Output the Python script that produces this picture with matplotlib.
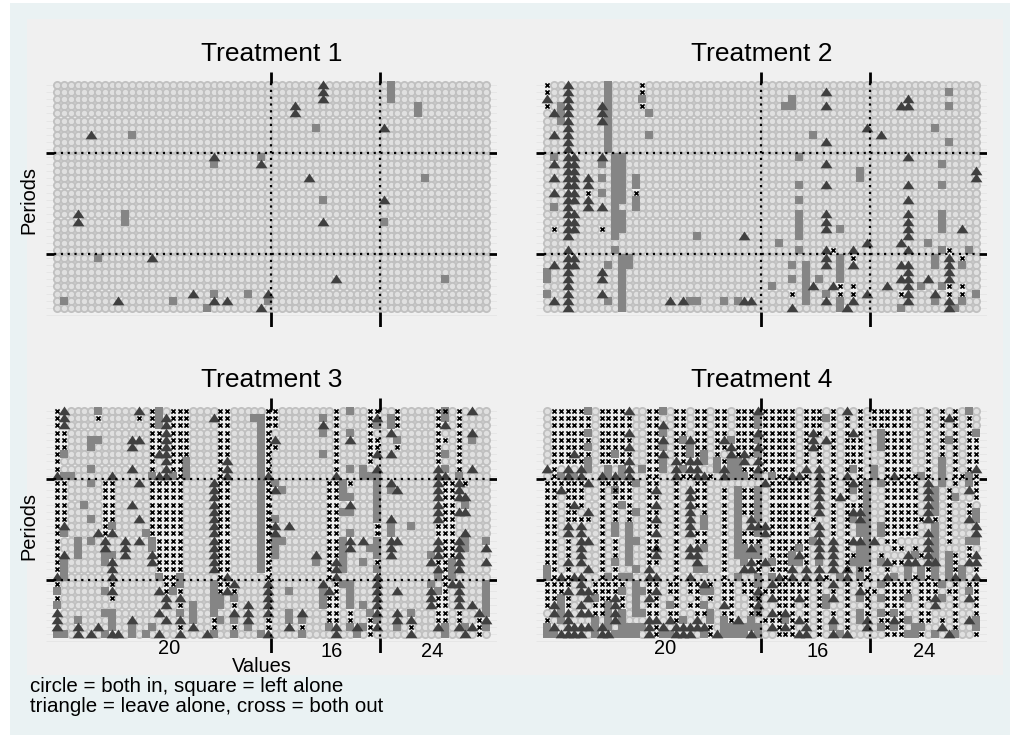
import matplotlib
matplotlib.use("Agg")
import matplotlib.pyplot as plt
from matplotlib.patches import Rectangle

plt.rcParams['font.family'] = ['Liberation Sans', 'DejaVu Sans']

# cells: {period row: [value columns]}
t1_square = {0: [49], 1: [49], 2: [49], 3: [53], 4: [53], 6: [38], 7: [11], 10: [30], 11: [23],
             13: [54], 16: [39], 18: [10], 19: [10, 48], 24: [6], 27: [57], 29: [23, 28],
             30: [1, 17, 31], 31: [22]}
t1_triangle = {0: [39], 1: [39], 2: [39], 3: [35], 4: [35], 6: [48], 7: [5], 10: [23], 11: [30],
               13: [37], 16: [48], 18: [3], 19: [3, 39], 24: [14], 27: [41], 29: [20, 31],
               30: [9, 23, 25], 31: [30]}
t1_cross = {}

t2_square = {0: [9], 1: [9, 59], 2: [9, 14, 36], 3: [2, 9, 35, 36, 59], 4: [2, 9, 15], 5: [2, 9],
             6: [9, 57], 7: [9, 15, 39], 8: [9, 59], 9: [9], 10: [1, 10, 11, 37],
             11: [8, 10, 11, 58], 12: [10, 11, 46], 13: [8, 10, 11, 13, 46], 14: [10, 11, 13, 37, 58],
             15: [8, 10, 11], 16: [10, 11, 13, 37], 17: [1, 10, 13], 18: [10, 11, 37, 58],
             19: [10, 11, 37, 58], 20: [10, 11, 37, 43, 58], 21: [10, 22, 37], 22: [34, 56],
             23: [10, 37, 58, 62], 24: [11, 12, 43, 57], 25: [9, 11, 12, 36, 38, 43, 57, 61],
             26: [0, 11, 38, 43], 27: [0, 11, 36, 38, 40, 43], 28: [11, 33, 38, 55, 58],
             29: [0, 11, 38, 41, 63], 30: [9, 11, 21, 22, 26, 28, 38, 43, 57, 61],
             31: [11, 43, 52, 60]}
t2_triangle = {0: [3], 1: [3, 41], 2: [0, 3, 53], 3: [3, 8, 41, 52, 53], 4: [1, 3, 8], 5: [3, 8],
               6: [3, 47], 7: [1, 3, 49], 8: [3, 41], 9: [3], 10: [3, 4, 8, 53], 11: [1, 3, 4, 41],
               12: [3, 4, 63], 13: [1, 3, 4, 6, 63], 14: [3, 4, 6, 41, 53], 15: [1, 3, 4],
               16: [3, 4, 6, 53], 17: [3, 6, 8], 18: [3, 4, 41, 53], 19: [3, 4, 41, 53],
               20: [3, 4, 41, 53, 61], 21: [3, 29, 53], 22: [47, 52], 23: [3, 41, 45, 53],
               24: [3, 4, 41, 59], 25: [1, 3, 4, 41, 45, 52, 53, 59], 26: [3, 8, 53, 59],
               27: [3, 8, 52, 53, 56, 59], 28: [3, 39, 42, 50, 53], 29: [3, 8, 47, 53, 57],
               30: [1, 3, 18, 20, 29, 30, 41, 45, 53, 59], 31: [3, 36, 44, 59]}
t2_cross = {0: [0, 14], 1: [0, 14], 3: [0, 14], 15: [6, 13], 20: [1, 8], 23: [42, 59], 24: [45, 61],
            28: [43, 45, 59, 61], 29: [36, 43, 45, 52, 59, 61]}

t3_square = {0: [6, 15, 43, 57], 1: [15, 29, 30, 39, 57, 49], 2: [15, 30, 47, 49], 3: [30, 39, 43],
             4: [5, 6, 30, 50, 61], 5: [5, 30], 6: [1, 30, 39, 57], 7: [19, 30], 8: [5, 19, 30, 43, 45, 57],
             9: [1, 2, 14, 17, 19, 30, 45, 46, 47, 59], 10: [5, 30, 32, 42, 47], 11: [30, 33, 42, 47, 49],
             12: [30, 42, 43, 47], 13: [4, 30, 47, 60], 14: [30, 42, 43, 47], 15: [5, 30, 32, 47],
             16: [8, 30, 49, 52], 17: [1, 13, 30, 43, 49], 18: [3, 5, 14, 30, 32, 33, 42, 47, 60, 63],
             19: [3, 14, 30, 32, 42, 46, 47, 60], 20: [3, 7, 8, 30, 32, 42, 47, 55], 21: [1, 7, 30, 38, 42, 45, 58],
             22: [1, 30, 42, 47, 58], 23: [1, 15, 18, 56, 58], 24: [18, 23, 42, 43, 55, 63],
             25: [0, 7, 17, 23, 34, 39, 43, 56, 63], 26: [23, 24, 26, 39, 43, 63],
             27: [0, 20, 23, 24, 39, 43, 45, 63], 28: [7, 8, 18, 20, 23, 34, 46, 52, 63],
             29: [3, 8, 20, 24, 26, 34, 36, 47], 30: [8, 11, 14, 28, 40, 43, 45, 50, 57, 60, 63],
             31: [0, 1, 7, 11, 13, 23, 26, 30, 36, 44, 57]}
t3_triangle = {0: [1, 12, 61], 1: [1, 16, 23, 47], 2: [1, 16, 39, 57], 3: [16, 49, 61], 4: [11, 12, 16, 32, 43],
               5: [11, 16], 6: [15, 16, 47, 49], 7: [16, 25], 8: [11, 16, 25, 47, 56, 61],
               9: [0, 8, 15, 16, 25, 31, 41, 56, 57], 10: [12, 23, 49, 56, 59], 11: [23, 32, 50, 56, 59],
               12: [23, 56, 59, 60], 13: [11, 23, 43, 56], 14: [23, 56, 59, 60], 15: [12, 23, 49, 56],
               16: [1, 23, 32, 34], 17: [6, 8, 23, 32, 60], 18: [7, 10, 12, 23, 43, 45, 49, 50, 56, 59],
               19: [7, 10, 23, 43, 49, 56, 59, 63], 20: [1, 10, 14, 23, 38, 49, 56, 59],
               21: [8, 14, 23, 41, 55, 59, 63], 22: [8, 23, 41, 56, 59], 23: [0, 8, 25, 41, 47],
               24: [26, 31, 39, 47, 59, 58], 25: [8, 15, 25, 31, 40, 47, 50, 55, 59],
               26: [16, 18, 31, 47, 55, 59], 27: [16, 28, 31, 47, 55, 59, 61], 28: [0, 15, 26, 28, 31, 36, 47, 50, 62],
               29: [0, 11, 16, 18, 28, 50, 52, 63], 30: [0, 3, 6, 20, 34, 41, 44, 47, 56, 59, 61],
               31: [3, 5, 8, 9, 15, 18, 22, 31, 41, 52, 60]}
t3_cross = {0: [0, 14, 17, 18, 19, 24, 25, 31, 32, 41, 46, 47, 50, 56, 57, 59],
            1: [0, 6, 12, 14, 17, 18, 19, 24, 25, 31, 32, 41, 46, 50, 56, 59],
            2: [0, 14, 17, 18, 19, 24, 25, 31, 32, 41, 46, 50, 56, 59],
            3: [0, 1, 14, 15, 17, 18, 19, 24, 25, 31, 41, 46, 56, 59],
            4: [0, 1, 14, 15, 17, 18, 19, 24, 25, 31, 41, 46, 47, 56, 57, 59],
            5: [0, 1, 14, 15, 17, 18, 19, 24, 25, 31, 32, 41, 46, 47, 50, 56, 59],
            6: [0, 14, 17, 18, 19, 24, 25, 31, 41, 46, 56, 59],
            7: [0, 14, 17, 18, 24, 31, 41, 46, 56, 59],
            8: [0, 14, 17, 18, 24, 31, 41, 59],
            9: [18, 24],
            10: [0, 1, 7, 8, 14, 15, 16, 17, 18, 24, 25, 31, 40, 41, 43, 57, 58, 60],
            11: [0, 1, 7, 8, 14, 15, 16, 17, 18, 24, 25, 31, 40, 41, 57, 58],
            12: [0, 1, 7, 8, 14, 15, 16, 17, 18, 24, 25, 31, 40, 41, 57, 58],
            13: [0, 1, 7, 8, 14, 15, 16, 17, 18, 24, 25, 31, 40, 41, 57, 58],
            14: [0, 1, 7, 8, 14, 15, 16, 17, 18, 24, 25, 31, 40, 41, 57, 58],
            15: [0, 1, 7, 8, 14, 15, 16, 17, 18, 24, 25, 31, 40, 41, 57, 58],
            16: [0, 7, 14, 15, 16, 17, 18, 24, 25, 31, 40, 41, 47, 56, 57, 58],
            17: [0, 7, 14, 15, 16, 17, 18, 24, 25, 31, 40, 41, 47, 56, 57, 58],
            18: [0, 15, 16, 17, 18, 24, 25, 31, 40, 41, 57, 58],
            19: [0, 15, 16, 17, 18, 24, 25, 31, 40, 41, 57, 58],
            20: [0, 15, 16, 17, 18, 24, 25, 31, 40, 41, 57, 58],
            21: [0, 15, 16, 17, 18, 24, 25, 31, 40, 47, 56, 57],
            22: [0, 15, 16, 17, 18, 24, 25, 31, 40, 57],
            23: [16, 17, 24, 31, 40, 57],
            24: [0, 8, 16, 17, 24, 25, 41, 57],
            25: [16, 18, 24, 26, 41, 57],
            26: [0, 8, 40, 41, 56, 57],
            27: [18, 26, 40, 41, 56, 57],
            28: [40, 41, 43, 56, 57, 59],
            29: [23, 31, 40, 41, 43, 46, 56, 57, 59, 62],
            30: [18, 23, 26, 31, 36, 46, 52, 62],
            31: [46, 62]}

t4_square = {0: [6, 17, 62], 1: [41, 31], 2: [31], 3: [6, 17, 49, 63], 4: [20, 27, 31, 49, 59],
             5: [6, 17, 21, 49], 6: [10, 21, 23, 31], 7: [6, 17, 23, 25, 27, 28, 58],
             8: [6, 9, 11, 14, 17, 20, 25, 27, 28, 45, 48, 58], 9: [2, 4, 9, 11, 27, 28, 29, 31, 33, 48, 55, 58, 62],
             10: [13, 47, 49, 58, 62], 11: [10, 28, 31, 45, 47, 57], 12: [28, 31, 47, 57, 60],
             13: [11, 28, 31, 47, 57], 14: [13, 28, 31, 47, 57, 63], 15: [23, 28, 31, 45, 47, 63],
             16: [10, 12, 23, 28, 46, 47, 49, 57], 17: [10, 12, 28, 31, 46, 47, 49, 57],
             18: [12, 13, 28, 39, 47, 57, 62, 63], 19: [12, 23, 28, 29, 31, 37, 46, 47, 57],
             20: [12, 28, 29, 30, 31, 36, 46, 47, 54, 57, 59], 21: [10, 12, 29, 33, 36, 37, 40, 45, 46, 47, 49, 57, 59],
             22: [0, 13, 22, 23, 46, 53, 55, 57, 59, 61], 23: [0, 9, 11, 12, 28, 31, 33, 43, 46, 51, 53, 55, 57, 59, 61],
             24: [13, 31, 49, 58], 25: [13, 14, 23, 24, 11, 62], 26: [2, 7, 13, 31, 41, 46, 49, 53, 58],
             27: [2, 9, 13, 18, 23, 41], 28: [2, 9, 11, 13, 14, 24, 31, 46, 49, 51],
             29: [2, 7, 9, 11, 20, 24, 26, 30, 35, 46, 53, 63],
             30: [0, 7, 9, 11, 12, 13, 14, 26, 27, 28, 29, 30, 31, 42, 49, 51, 54, 55, 63],
             31: [0, 1, 7, 10, 11, 12, 13, 17, 18, 23, 26, 27, 28, 29, 31, 43, 53, 54, 57, 60]}
t4_triangle = {0: [12, 31, 44], 1: [59], 2: [17], 3: [12, 31, 39, 45], 4: [17, 21, 26, 39, 41], 5: [12, 27, 31, 39],
               6: [4, 17, 27, 29], 7: [12, 19, 21, 22, 29, 31], 8: [0, 3, 5, 12, 19, 21, 22, 26, 31, 38, 40, 63],
               9: [3, 5, 8, 10, 12, 19, 22, 23, 26, 36, 37, 40, 44, 51], 10: [6, 32, 40, 45, 56],
               11: [2, 16, 21, 40, 56, 62], 12: [21, 40, 43, 56], 13: [4, 16, 21, 40, 56], 14: [6, 21, 40, 45, 46, 56],
               15: [16, 21, 30, 46, 56, 62], 16: [3, 5, 21, 30, 31, 32, 40, 63], 17: [3, 5, 16, 21, 32, 40, 56, 63],
               18: [5, 6, 40, 42, 45, 46, 48, 56], 19: [5, 16, 21, 22, 30, 40, 42, 56],
               20: [5, 16, 21, 22, 37, 40, 42, 53, 56, 63], 21: [3, 5, 22, 30, 32, 42, 50, 53, 54, 56, 57, 62, 63],
               22: [6, 15, 29, 30, 36, 38, 40, 42, 44], 23: [2, 4, 5, 15, 16, 21, 34, 36, 38, 40, 44, 50, 60, 63],
               24: [5, 23, 33, 42], 25: [3, 5, 6, 16, 31, 46], 26: [6, 10, 15, 33, 37, 42, 57, 62],
               27: [1, 5, 10, 26, 31, 57], 28: [1, 3, 5, 6, 10, 33, 35], 29: [3, 10, 15, 16, 18, 22, 28, 37, 42, 47, 51, 62],
               30: [1, 3, 4, 5, 6, 8, 15, 17, 19, 20, 21, 22, 23, 33, 35, 38, 47, 58],
               31: [2, 3, 4, 5, 8, 9, 15, 19, 20, 21, 25, 30, 37, 38, 42, 44, 59]}
t4_cross = {0: [1, 2, 3, 4, 5, 8, 9, 10, 11, 15, 16, 19, 20, 22, 23, 25, 26, 28, 29, 30, 32, 33, 34, 35, 36, 38, 39, 40, 42, 46, 48, 49, 50, 51, 52, 53, 56, 58, 60],
            1: [1, 2, 3, 4, 5, 6, 8, 9, 10, 11, 12, 15, 16, 19, 20, 22, 23, 25, 26, 28, 29, 30, 32, 33, 34, 35, 36, 38, 39, 40, 42, 44, 46, 48, 49, 50, 51, 52, 53, 56, 58, 60, 62],
            2: [1, 2, 3, 4, 5, 6, 8, 9, 10, 11, 12, 15, 16, 19, 20, 22, 23, 25, 26, 28, 29, 30, 32, 33, 34, 35, 36, 38, 39, 40, 42, 44, 46, 48, 49, 50, 51, 52, 53, 56, 58, 60, 62],
            3: [1, 2, 3, 4, 5, 8, 9, 10, 11, 15, 16, 19, 20, 22, 23, 25, 26, 28, 29, 30, 32, 33, 34, 35, 36, 38, 40, 42, 44, 46, 50, 51, 52, 53, 56, 58, 60, 62],
            4: [1, 2, 3, 4, 5, 6, 8, 9, 10, 11, 12, 15, 16, 19, 22, 23, 25, 28, 29, 30, 32, 33, 34, 35, 36, 38, 42, 44, 45, 46, 50, 51, 52, 53, 56, 58, 60, 62, 63],
            5: [1, 2, 3, 4, 5, 8, 9, 10, 11, 15, 16, 19, 20, 22, 23, 25, 26, 28, 29, 30, 32, 33, 34, 35, 36, 38, 40, 42, 44, 45, 46, 50, 51, 52, 53, 56, 58, 60, 62, 63],
            6: [1, 2, 3, 5, 6, 8, 9, 11, 12, 15, 16, 19, 20, 22, 25, 28, 30, 32, 33, 34, 35, 36, 38, 40, 42, 44, 45, 46, 50, 51, 52, 53, 56, 58, 60, 62, 63],
            7: [1, 2, 3, 4, 5, 8, 9, 10, 11, 15, 16, 20, 26, 32, 33, 34, 35, 36, 38, 40, 42, 44, 45, 46, 50, 51, 52, 53, 56, 60, 62, 63],
            8: [1, 15, 16, 29, 30, 32, 33, 34, 35, 36, 42, 44, 46, 50, 51, 52, 53, 56, 60, 62],
            9: [1, 15, 16, 20, 21, 24, 30, 34, 35, 38, 42, 46, 50, 52, 53, 54, 56, 60, 61, 63],
            10: [0, 1, 2, 3, 4, 5, 8, 9, 10, 11, 12, 15, 16, 19, 22, 23, 33, 34, 35, 36, 37, 38, 42, 44, 46, 50, 51, 52, 53, 54, 60, 63],
            11: [0, 1, 3, 4, 5, 8, 10, 11, 12, 15, 19, 22, 23, 26, 29, 30, 33, 34, 35, 36, 37, 38, 42, 44, 46, 50, 51, 52, 53, 54, 59, 63],
            12: [0, 1, 3, 4, 5, 8, 10, 11, 12, 15, 16, 19, 22, 23, 26, 29, 30, 33, 34, 35, 36, 37, 38, 42, 44, 46, 50, 51, 52, 53, 54, 59, 63],
            13: [0, 1, 3, 5, 8, 10, 12, 15, 19, 22, 23, 26, 29, 30, 33, 34, 35, 36, 37, 38, 42, 44, 45, 46, 50, 51, 52, 53, 54, 59, 62],
            14: [0, 1, 3, 4, 8, 10, 12, 15, 16, 19, 23, 26, 29, 30, 33, 34, 35, 36, 37, 38, 42, 44, 50, 51, 52, 53, 54, 59, 62],
            15: [0, 1, 3, 4, 5, 6, 8, 10, 12, 15, 19, 26, 33, 34, 35, 36, 37, 38, 39, 42, 44, 50, 51, 52, 53, 54, 55, 57, 59],
            16: [0, 1, 8, 15, 16, 19, 26, 33, 34, 35, 36, 37, 38, 42, 44, 50, 51, 52, 53, 54, 59],
            17: [0, 1, 8, 15, 19, 22, 23, 26, 29, 30, 33, 34, 35, 36, 37, 38, 42, 44, 50, 51, 52, 53, 54, 59],
            18: [0, 1, 3, 8, 10, 15, 16, 19, 22, 23, 26, 29, 30, 31, 33, 34, 35, 36, 37, 38, 44, 50, 51, 59],
            19: [0, 1, 3, 8, 10, 15, 16, 19, 26, 33, 34, 35, 36, 38, 44, 51, 52, 54, 62],
            20: [0, 1, 3, 8, 10, 15, 19, 26, 33, 34, 35, 38, 44, 45, 49, 55, 60, 62],
            21: [0, 1, 8, 15, 16, 19, 26, 31, 34, 35, 38, 44, 51, 52, 60],
            22: [1, 3, 8, 10, 19, 26, 31, 33, 34, 35, 44, 46, 47, 50, 56, 60, 63],
            23: [1, 3, 8, 10, 19, 26, 35, 41, 47, 54, 56],
            24: [0, 1, 2, 3, 7, 8, 9, 10, 11, 15, 16, 18, 19, 21, 22, 24, 26, 27, 29, 30, 34, 35, 36, 37, 38, 40, 44, 46, 50, 51, 52, 53, 55, 56, 57, 60, 62, 63],
            25: [0, 1, 2, 7, 8, 9, 10, 15, 18, 19, 21, 22, 26, 27, 29, 30, 32, 33, 34, 35, 36, 37, 38, 40, 42, 44, 47, 48, 50, 51, 52, 53, 55, 56, 57, 59, 60, 63],
            26: [0, 1, 3, 8, 9, 11, 16, 19, 22, 24, 26, 27, 30, 31, 34, 35, 36, 38, 40, 44, 47, 50, 51, 52, 55, 56, 60, 63],
            27: [0, 3, 7, 8, 11, 15, 16, 19, 21, 22, 27, 30, 34, 35, 36, 38, 40, 44, 47, 50, 51, 52, 55, 60, 63],
            28: [7, 8, 15, 16, 18, 19, 22, 23, 26, 27, 30, 31, 34, 36, 38, 40, 42, 44, 47, 50, 52, 55, 56, 60, 63],
            29: [0, 19, 27, 32, 33, 34, 36, 38, 40, 44, 49, 50, 52, 55, 56, 58, 60],
            30: [16, 24, 34, 36, 40, 44, 50, 52, 60],
            31: [16, 24, 34, 35, 36, 40, 50, 51, 52, 55, 63]}

titles = ["Treatment 1", "Treatment 2", "Treatment 3", "Treatment 4"]
squares = [t1_square, t2_square, t3_square, t4_square]
triangles = [t1_triangle, t2_triangle, t3_triangle, t4_triangle]
crosses = [t1_cross, t2_cross, t3_cross, t4_cross]
col_lines = [31.4, 47.4]
row_lines = [9.5, 23.5]
tick_labels = ["20", "16", "24"]
tick_cols = [[16.4, 40.4, 55.2], [17.3, 39.8, 55.4]]

# wide flat triangle like the original marker
flat_triangle = [(-1, -0.65), (1, -0.65), (0, 0.85)]


def cells(d):
    xs, ys = [], []
    for row, cols in d.items():
        for c in cols:
            xs.append(c)
            ys.append(row)
    return xs, ys


W, H = 1010, 736
fig = plt.figure(figsize=(W / 100, H / 100), dpi=100, facecolor="white")


def bg(x0, y0, x1, y1, color):
    fig.patches.append(Rectangle((x0 / W, 1 - y1 / H), (x1 - x0) / W, (y1 - y0) / H,
                                 transform=fig.transFigure, facecolor=color, edgecolor="none", zorder=-5))


bg(10, 3, W, 735, "#eaf2f3")
bg(27, 19, 1003, 675, "#f0f0f0")

for i in range(4):
    dx = 490 * (i % 2)
    dy = 326.3 * (i // 2)
    left, right, top, bottom = 46 + dx, 497 + dx, 72 + dy, 327 + dy
    ax = fig.add_axes([left / W, 1 - bottom / H, (right - left) / W, (bottom - top) / H])
    ax.set_xlim(-1.66, 64.66)
    ax.set_ylim(33.65, -1.76)
    ax.axis("off")

    # faint row lines
    for r in range(33):
        ax.plot([-1.66, 64.66], [r, r], color="#e6e6e6", lw=0.7, zorder=1, solid_capstyle="butt")

    taken = set()
    for d in (squares[i], triangles[i], crosses[i]):
        for row, cols in d.items():
            taken.update((c, row) for c in cols)
    cx = [c for r in range(32) for c in range(64) if (c, r) not in taken]
    cy = [r for r in range(32) for c in range(64) if (c, r) not in taken]
    ax.scatter(cx, cy, marker="o", s=27, facecolor="#e0e0e0", edgecolor="#c0c0c0", linewidths=1.3, zorder=2)

    sx, sy = cells(squares[i])
    ax.scatter(sx, sy, marker="s", s=29, color="#858585", linewidths=0, zorder=3)
    tx, ty = cells(triangles[i])
    ax.scatter(tx, ty, marker=flat_triangle, s=72, color="#404040", linewidths=0, zorder=4)
    xx, xy = cells(crosses[i])
    ax.scatter(xx, xy, marker="x", s=9, color="black", linewidths=1.2, zorder=5)

    # dotted inside, solid stubs outside
    for c in col_lines:
        ax.plot([c, c], [-0.2, 31.5], color="black", lw=1.6, ls=(0, (1, 2.06)), zorder=6)
        ax.plot([c, c], [-1.76, -0.2], color="black", lw=2, zorder=6, solid_capstyle="butt")
        ax.plot([c, c], [31.5, 33.65], color="black", lw=2, zorder=6, solid_capstyle="butt")
    for r in row_lines:
        ax.plot([-0.5, 63.5], [r, r], color="black", lw=1.6, ls=(0, (1, 2.06)), zorder=6)
        ax.plot([-1.66, -0.5], [r, r], color="black", lw=2, zorder=6, solid_capstyle="butt")
        ax.plot([63.5, 64.66], [r, r], color="black", lw=2, zorder=6, solid_capstyle="butt")

    ax.text(0.5, 1.0 + 18 / 255, titles[i], transform=ax.transAxes, ha="center", va="center", fontsize=19)
    if i % 2 == 0:
        ax.text(-17 / 451, 0.498, "Periods", transform=ax.transAxes, rotation=90, ha="center", va="center", fontsize=14.4)
    if i // 2 == 1:
        col_vals = tick_cols[i % 2]
        ax.text(col_vals[0], 33.0, tick_labels[0], ha="center", va="center", fontsize=14.4, clip_on=False)
        ax.text(col_vals[1], 33.4, tick_labels[1], ha="center", va="center", fontsize=14.4, clip_on=False)
        ax.text(col_vals[2], 33.4, tick_labels[2], ha="center", va="center", fontsize=14.4, clip_on=False)

fig.text(262 / W, 1 - 666 / H, "Values", ha="center", va="center", fontsize=14.4)
fig.text(30 / W, 1 - 687 / H, "circle = both in, square = left alone", ha="left", va="center", fontsize=14.8)
fig.text(30 / W, 1 - 707 / H, "triangle = leave alone, cross = both out", ha="left", va="center", fontsize=14.8)

fig.savefig("out.png", dpi=100)
